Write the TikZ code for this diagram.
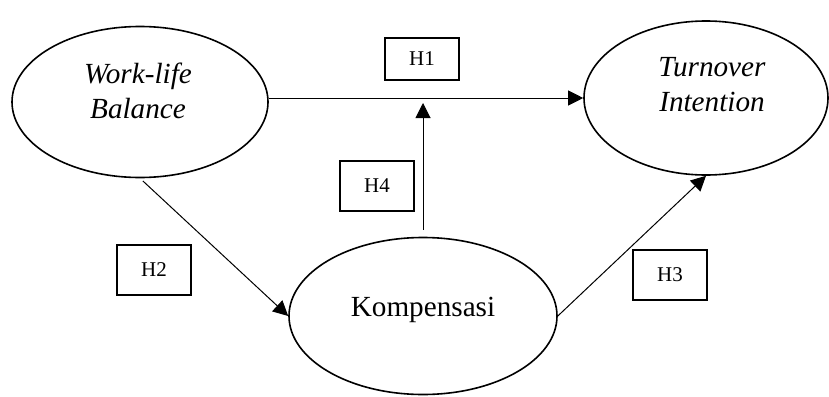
\documentclass[tikz,border=0pt]{standalone}
\usepackage{fontspec}
\setmainfont{Liberation Serif}
\usetikzlibrary{arrows.meta,shapes.geometric}

\begin{document}
\begin{tikzpicture}[x=0.5pt,y=-0.5pt,>={Triangle[length=7.5pt,width=7.5pt]},
  latent/.style={ellipse,draw,line width=0.8pt,inner sep=0pt},
  hyp/.style={rectangle,draw,line width=0.8pt,minimum width=37pt,minimum height=25pt,inner sep=0pt,font=\fontsize{10.5}{12}\selectfont},
  caption/.style={align=center,font=\fontsize{14.6}{17.5}\selectfont}]
  \useasboundingbox (0,0) rectangle (829,396);

  \node[latent,minimum width=128pt,minimum height=75.5pt] (wlb)  at (140,102) {};
  \node[latent,minimum width=122pt,minimum height=77pt]   (ti)   at (706,98)  {};
  \node[latent,minimum width=134pt,minimum height=78.5pt] (komp) at (423,316) {};

  \node[caption] (wlbtext)  at (138,91)  {\textit{Work-life}\\\textit{Balance}};
  \node[caption] (titext)   at (712,85)  {\textit{Turnover}\\\textit{Intention}};
  \node[caption] (komptext) at (423,310) {Kompensasi};

  \node[hyp,minimum height=21pt] (h1) at (422,59)  {H1};
  \node[hyp]                     (h2) at (154,270) {H2};
  \node[hyp]                     (h3) at (670,275) {H3};
  \node[hyp]                     (h4) at (377,186) {H4};

  \coordinate (h4tip) at (423,103);

  \path[->,line width=0.5pt]
  (wlb.east |- ti.west) edge (ti.west)
  (wlb.south) edge [shorten <=2pt] (komp.west)
  (komp.east) edge (ti.south)
  (komp.north) edge [shorten <=3.5pt] (h4tip)
  ;
\end{tikzpicture}
\end{document}
